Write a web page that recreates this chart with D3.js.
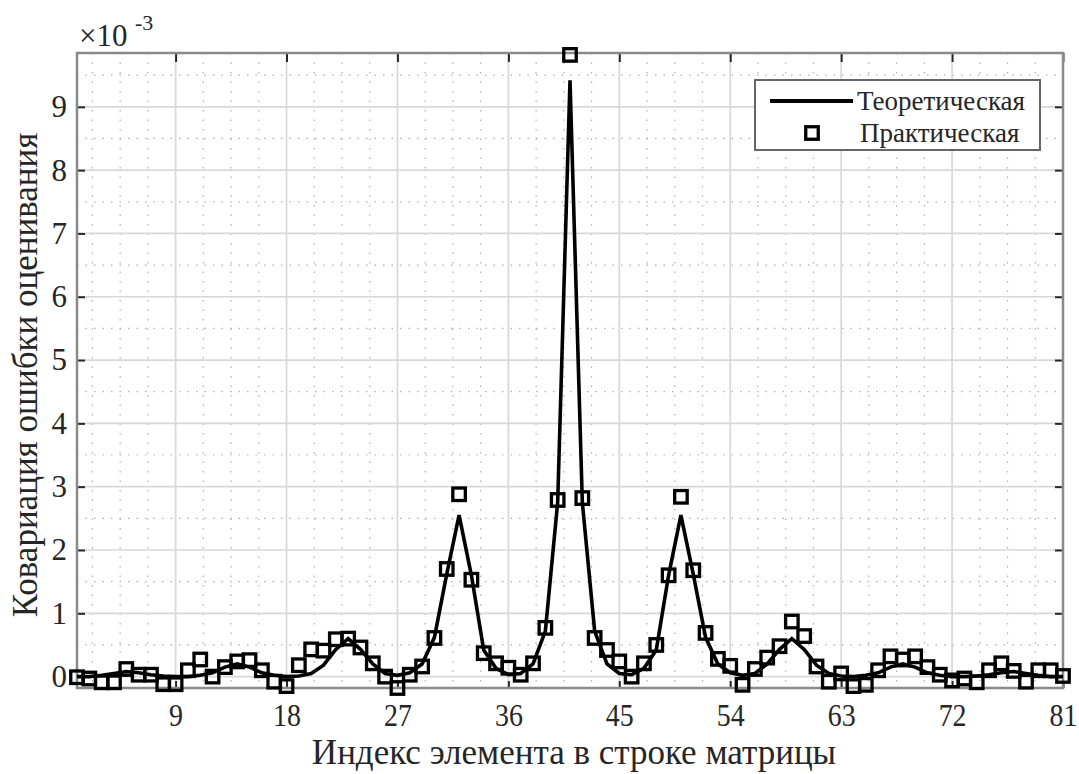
<!DOCTYPE html>
<html><head><meta charset="utf-8">
<script src="https://cdn.jsdelivr.net/npm/d3@7"></script>
<style>
html,body{margin:0;padding:0;background:#fff;}
svg{display:block;}
svg text{font-family:"Liberation Serif","Times New Roman",Times,"DejaVu Serif","Noto Serif",serif !important;fill:#262626;}
</style></head>
<body>
<svg id="chart" width="1079" height="774"></svg>
<script>
// ---- data ----
const indices = d3.range(1, 82);
const theoretical = [
 0.00, 0.00, 0.02, 0.05, 0.08, 0.06, 0.03, 0.01, 0.00,
 0.00, 0.02, 0.06, 0.15, 0.20, 0.15, 0.06, 0.02, 0.00,
 0.01, 0.05, 0.18, 0.43, 0.60, 0.43, 0.20, 0.05, 0.02,
 0.06, 0.20, 0.62, 1.62, 2.55, 1.60, 0.42, 0.13, 0.03,
 0.05, 0.20, 0.72, 2.75, 9.42, 2.75, 0.72, 0.20, 0.05,
 0.03, 0.13, 0.42, 1.60, 2.55, 1.62, 0.62, 0.20, 0.06,
 0.02, 0.05, 0.20, 0.43, 0.60, 0.43, 0.18, 0.05, 0.01,
 0.00, 0.02, 0.06, 0.15, 0.20, 0.15, 0.06, 0.02, 0.00,
 0.00, 0.01, 0.03, 0.06, 0.08, 0.05, 0.02, 0.00, 0.00
];
const practical = [
 -0.01, -0.03, -0.09, -0.09, 0.12, 0.03, 0.03, -0.12, -0.12,
 0.10, 0.27, 0.00, 0.15, 0.24, 0.26, 0.10, -0.08, -0.15,
 0.18, 0.43, 0.41, 0.59, 0.60, 0.46, 0.21, 0.00, -0.18,
 0.03, 0.16, 0.61, 1.70, 2.88, 1.53, 0.37, 0.21, 0.14,
 0.03, 0.21, 0.77, 2.79, 9.82, 2.82, 0.61, 0.42, 0.24,
 0.00, 0.21, 0.50, 1.60, 2.84, 1.68, 0.69, 0.28, 0.17,
 -0.13, 0.12, 0.30, 0.48, 0.87, 0.64, 0.16, -0.08, 0.05,
 -0.15, -0.13, 0.10, 0.32, 0.27, 0.32, 0.15, 0.03, -0.06,
 -0.03, -0.09, 0.10, 0.21, 0.09, -0.08, 0.10, 0.10, 0.01
];
const xTicks = [9, 18, 27, 36, 45, 54, 63, 72, 81];
const yTicks = [0, 1, 2, 3, 4, 5, 6, 7, 8, 9];
const xMinor = [2.25, 4.5, 6.75, 11.25, 13.5, 15.75, 20.25, 22.5, 24.75, 29.25, 31.5, 33.75,
  38.25, 40.5, 42.75, 47.25, 49.5, 51.75, 56.25, 58.5, 60.75, 65.25, 67.5, 69.75, 74.25, 76.5, 78.75];
const yMinor = [0.5, 1.5, 2.5, 3.5, 4.5, 5.5, 6.5, 7.5, 8.5, 9.5];
const seriesNames = ["Теоретическая", "Практическая"];
const xLabel = "Индекс элемента в строке матрицы";
const yLabel = "Ковариация ошибки оценивания";

// ---- layout ----
const FONT = '"Liberation Serif","Times New Roman",Times,"DejaVu Serif","Noto Serif",serif';
const L = 77, R = 1063, T = 53, B = 688;
const svg = d3.select("#chart").attr("font-family", FONT);
const x = d3.scaleLinear().domain([1, 81]).range([L, R]);
const y = d3.scaleLinear().domain([-0.18, 9.85]).range([B, T]);

// minor grid
const g = svg.append("g");
g.selectAll(".vmin").data(xMinor).join("line")
  .attr("x1", d => x(d)).attr("x2", d => x(d)).attr("y1", T).attr("y2", B)
  .attr("stroke", "#b0b0b0").attr("stroke-width", 1.2).attr("stroke-dasharray", "1.5 8");
g.selectAll(".hmin").data(yMinor).join("line")
  .attr("x1", L).attr("x2", R).attr("y1", d => y(d)).attr("y2", d => y(d))
  .attr("stroke", "#b0b0b0").attr("stroke-width", 1.2).attr("stroke-dasharray", "1.5 7");
// major grid
g.selectAll(".vmaj").data(xTicks).join("line")
  .attr("x1", d => x(d)).attr("x2", d => x(d)).attr("y1", T).attr("y2", B)
  .attr("stroke", "#d8d8d8").attr("stroke-width", 1.7);
g.selectAll(".hmaj").data(yTicks).join("line")
  .attr("x1", L).attr("x2", R).attr("y1", d => y(d)).attr("y2", d => y(d))
  .attr("stroke", "#d8d8d8").attr("stroke-width", 1.7);

// axes
function styleAxis(sel, fs) {
  sel.attr("font-family", FONT);
  sel.select(".domain").remove();
  sel.selectAll(".tick line").attr("stroke", "#262626").attr("stroke-width", 2);
  sel.selectAll(".tick text").attr("font-size", fs).attr("fill", "#262626")
    .attr("font-family", FONT);
}
svg.append("g").attr("transform", `translate(0,${B})`)
  .call(d3.axisBottom(x).tickValues(xTicks).tickSize(-7).tickPadding(16).tickFormat(d3.format("d")))
  .call(s => styleAxis(s, 31))
  .call(s => s.selectAll(".tick text").attr("transform", "scale(0.9,1)"));
svg.append("g").attr("transform", `translate(0,${T})`)
  .call(d3.axisTop(x).tickValues(xTicks).tickSize(-9).tickFormat(""))
  .call(s => styleAxis(s, 31));
svg.append("g").attr("transform", `translate(${L},0)`)
  .call(d3.axisLeft(y).tickValues(yTicks).tickSize(-8).tickPadding(10).tickFormat(d3.format("d")))
  .call(s => styleAxis(s, 31));
svg.append("g").attr("transform", `translate(${R},0)`)
  .call(d3.axisRight(y).tickValues(yTicks).tickSize(-8).tickFormat(""))
  .call(s => styleAxis(s, 31));

// box
svg.append("rect").attr("x", L).attr("y", T).attr("width", R - L).attr("height", B - T)
  .attr("fill", "none").attr("stroke", "#8a8a8a").attr("stroke-width", 2.5);

// exponent
svg.append("text").attr("x", 79).attr("y", 46).attr("font-size", 31).text("×10");
svg.append("text").attr("x", 135).attr("y", 30).attr("font-size", 22).text("-3");

// labels
svg.append("text").attr("x", 574).attr("y", 764).attr("text-anchor", "middle")
  .attr("font-size", 35).text(xLabel);
svg.append("text").attr("transform", "translate(37,375) rotate(-90)").attr("text-anchor", "middle")
  .attr("font-size", 35).text(yLabel);

// data
const lineGen = d3.line().x((d, i) => x(indices[i])).y(d => y(d));
svg.append("path").datum(theoretical).attr("d", lineGen)
  .attr("fill", "none").attr("stroke", "#000").attr("stroke-width", 3.6).attr("stroke-linejoin", "miter");
const ms = 12.5;
svg.selectAll(".pm").data(practical).join("rect")
  .attr("x", (d, i) => x(indices[i]) - ms / 2).attr("y", d => y(d) - ms / 2)
  .attr("width", ms).attr("height", ms)
  .attr("fill", "none").attr("stroke", "#000").attr("stroke-width", 3.3);

// legend
const lg = svg.append("g");
lg.append("rect").attr("x", 755).attr("y", 80).attr("width", 285).attr("height", 70)
  .attr("fill", "#fff").attr("stroke", "#666").attr("stroke-width", 2);
lg.append("line").attr("x1", 770).attr("x2", 853).attr("y1", 101).attr("y2", 101)
  .attr("stroke", "#000").attr("stroke-width", 4);
lg.append("rect").attr("x", 812 - ms / 2).attr("y", 133 - ms / 2).attr("width", ms).attr("height", ms)
  .attr("fill", "none").attr("stroke", "#000").attr("stroke-width", 3.3);
lg.append("text").attr("x", 857).attr("y", 110).attr("font-size", 27).text(seriesNames[0]);
lg.append("text").attr("x", 860).attr("y", 142).attr("font-size", 27).text(seriesNames[1]);
</script>
</body></html>
